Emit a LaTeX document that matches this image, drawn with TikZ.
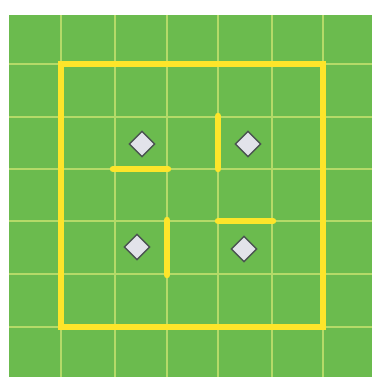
\documentclass[tikz,border=0pt]{standalone}
\usetikzlibrary{shapes.geometric}
\definecolor{field}{HTML}{6BBB4E}
\definecolor{gridc}{HTML}{B4DA68}
\definecolor{wall}{HTML}{FDE52A}
\definecolor{gem}{HTML}{E2E3EA}
\definecolor{gemedge}{HTML}{4A5550}
\tikzset{
  gridline/.style={gridc, line width=1.6pt},
  wallline/.style={wall, line width=6.5pt, line cap=round},
  gembox/.style={diamond, draw=gemedge, fill=gem, line width=1.4pt, minimum width=26pt, minimum height=26pt, inner sep=0pt}
}
\begin{document}
\begin{tikzpicture}[x=1pt,y=-1pt]
\useasboundingbox (0,0) rectangle (374,378);
\fill[white] (0,0) rectangle (374,378);
\fill[field] (9,15) rectangle (372,377);
\foreach \x in {61,115,167,218,272,323} \draw[gridline] (\x,15) -- (\x,377);
\foreach \y in {64,117,169,221,274,327} \draw[gridline] (9,\y) -- (372,\y);
\draw[wall, line width=6.5pt, line join=miter] (61,64) rectangle (323,327);
\draw[wallline] (113,169) -- (168,169);
\draw[wallline] (218,116) -- (218,169);
\draw[wallline] (167,220) -- (167,275);
\draw[wallline] (218,221) -- (273,221);
\node[gembox] (g1) at (142,144) {};
\node[gembox] (g2) at (248,144) {};
\node[gembox] (g3) at (137,247) {};
\node[gembox] (g4) at (244,249) {};
\end{tikzpicture}
\end{document}
